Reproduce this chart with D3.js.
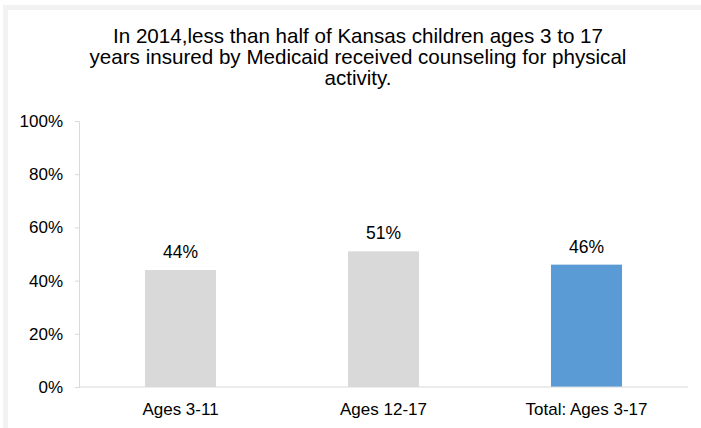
<!DOCTYPE html>
<html><head><meta charset="utf-8">
<script src="https://cdn.jsdelivr.net/npm/d3@7"></script>
<style>body{margin:0;background:#fff;}svg{display:block;font-family:"Liberation Sans",Arial,sans-serif;}</style>
</head><body>
<script>
const categories = ["Ages 3-11", "Ages 12-17", "Total: Ages 3-17"];
const values = [44, 51, 46];
const barColors = ["#d9d9d9", "#d9d9d9", "#5b9bd5"];
const yTicks = [0, 20, 40, 60, 80, 100];
const titleLines = [
  "In 2014,less than half of Kansas children ages 3 to 17",
  "years insured by Medicaid received counseling for physical",
  "activity."
];

const W = 701, H = 428;
const svg = d3.select("body").append("svg").attr("width", W).attr("height", H);

// light frame strips
svg.append("rect").attr("x", 3).attr("y", 5).attr("width", 5).attr("height", H - 5).attr("fill", "#f2f2f2");
svg.append("rect").attr("x", 3).attr("y", 5).attr("width", W - 3).attr("height", 5).attr("fill", "#f2f2f2");

const x = d3.scaleBand().domain(categories).range([79, 688]).paddingInner(0.65).paddingOuter(0.325);
const y = d3.scaleLinear().domain([0, 100]).range([387, 121]);

// title
svg.append("g").selectAll("text").data(titleLines).join("text")
  .attr("x", 358).attr("y", (d, i) => 43 + i * 21)
  .attr("text-anchor", "middle").attr("font-size", 20.6).attr("fill", "#000")
  .text(d => d);

// y axis
const yAxis = d3.axisLeft(y).tickValues(yTicks).tickFormat(d => d + "%").tickSize(4).tickPadding(12);
const gy = svg.append("g").attr("transform", "translate(79,0)").call(yAxis);
gy.select(".domain").attr("stroke", "#d9d9d9");
gy.selectAll(".tick line").attr("stroke", "#d9d9d9");
gy.selectAll(".tick text").attr("font-size", 17).attr("fill", "#000").attr("font-family", "Liberation Sans, Arial, sans-serif");

// x axis
const xAxis = d3.axisBottom(x).tickSize(0).tickPadding(16);
const gx = svg.append("g").attr("transform", "translate(0,387)").call(xAxis);
gx.select(".domain").attr("stroke", "#d9d9d9").attr("d", "M79,0H688");
gx.selectAll(".tick text").attr("font-size", 17).attr("fill", "#000").attr("font-family", "Liberation Sans, Arial, sans-serif");

// bars
svg.append("g").selectAll("rect").data(values).join("rect")
  .attr("x", (d, i) => x(categories[i]))
  .attr("y", d => y(d))
  .attr("width", x.bandwidth())
  .attr("height", d => y(0) - y(d))
  .attr("fill", (d, i) => barColors[i]);

// value labels
svg.append("g").selectAll("text").data(values).join("text")
  .attr("x", (d, i) => x(categories[i]) + x.bandwidth() / 2)
  .attr("y", d => y(d) - 12)
  .attr("text-anchor", "middle").attr("font-size", 17.5).attr("fill", "#000")
  .text(d => d + "%");

gx.raise();
</script>
</body></html>
